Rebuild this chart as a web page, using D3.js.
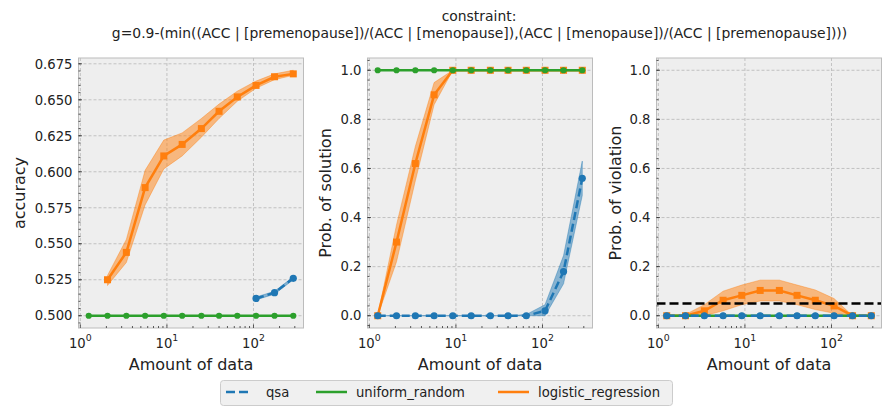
<!DOCTYPE html>
<html>
<head>
<meta charset="utf-8">
<script src="https://cdn.jsdelivr.net/npm/d3@7"></script>
<style>
  html, body { margin: 0; padding: 0; background: #ffffff; }
  svg { display: block; font-family: "DejaVu Sans", sans-serif; }
</style>
</head>
<body>
<svg id="chart" width="891" height="415"></svg>
<script>
// ---------------- data ----------------
const titleLines = ["constraint:",
  "g=0.9-(min((ACC | [premenopause])/(ACC | [menopause]),(ACC | [menopause])/(ACC | [premenopause])))"];
const seriesNames = ["qsa", "uniform_random", "logistic_regression"];
const nData = [1.25, 2.06, 3.4, 5.6, 9.2, 15, 25, 40, 65, 107, 175, 288];
const xTickValues = [1, 10, 100];
const xTickExponents = ["0", "1", "2"];

// panel 1: accuracy
const accQsa      = [null, null, null, null, null, null, null, null, null, 0.512, 0.516, 0.526];
const accQsaLo    = [null, null, null, null, null, null, null, null, null, 0.511, 0.515, 0.525];
const accQsaHi    = [null, null, null, null, null, null, null, null, null, 0.513, 0.517, 0.527];
const accUniform  = [0.5, 0.5, 0.5, 0.5, 0.5, 0.5, 0.5, 0.5, 0.5, 0.5, 0.5, 0.5];
const accLogreg   = [null, 0.525, 0.544, 0.589, 0.611, 0.619, 0.630, 0.642, 0.652, 0.660, 0.666, 0.668];
const accLogregLo = [null, 0.521, 0.537, 0.577, 0.602, 0.611, 0.624, 0.637, 0.649, 0.658, 0.664, 0.667];
const accLogregHi = [null, 0.528, 0.553, 0.601, 0.622, 0.627, 0.637, 0.647, 0.656, 0.663, 0.668, 0.6705];
const accTicks = [0.500, 0.525, 0.550, 0.575, 0.600, 0.625, 0.650, 0.675];

// panel 2: probability of solution
const solQsa      = [0, 0, 0, 0, 0, 0, 0, 0, 0, 0.02, 0.18, 0.56];
const solQsaLo    = [0, 0, 0, 0, 0, 0, 0, 0, 0, 0.0, 0.13, 0.49];
const solQsaHi    = [0, 0, 0, 0, 0, 0, 0, 0, 0.005, 0.045, 0.245, 0.63];
const solUniform  = [1, 1, 1, 1, 1, 1, 1, 1, 1, 1, 1, 1];
const solLogreg   = [0, 0.30, 0.62, 0.90, 1, 1, 1, 1, 1, 1, 1, 1];
const solLogregLo = [0, 0.22, 0.55, 0.86, 1, 1, 1, 1, 1, 1, 1, 1];
const solLogregHi = [0, 0.37, 0.69, 0.95, 1, 1, 1, 1, 1, 1, 1, 1];

// panel 3: probability of violation
const violQsa      = [0, 0, 0, 0, 0, 0, 0, 0, 0, 0, 0, 0];
const violUniform  = [0, 0, 0, 0, 0, 0, 0, 0, 0, 0, 0, 0];
const violLogreg   = [0, 0, 0.02, 0.063, 0.083, 0.103, 0.103, 0.083, 0.063, 0.04, 0, 0];
const violLogregLo = [0, 0, 0, 0.02, 0.045, 0.06, 0.06, 0.045, 0.025, 0.01, 0, 0];
const violLogregHi = [0, 0.005, 0.045, 0.10, 0.125, 0.145, 0.145, 0.125, 0.105, 0.07, 0, 0];
const deltaThreshold = 0.05;
const probTicks = [0, 0.2, 0.4, 0.6, 0.8, 1.0];

// ---------------- style ----------------
const colors = { qsa: "#1f77b4", uniform_random: "#2ca02c", logistic_regression: "#ff7f0e" };
const svg = d3.select("#chart");
const panelTop = 58, panelBottom = 328;
const panelLefts = [78.5, 367.5, 656.5];
const panelW = 225;

// shared log x scale with 5% (log) margin like matplotlib
const lmin = Math.log10(d3.min(nData)), lmax = Math.log10(d3.max(nData));
const lr = lmax - lmin;
const xDomain = [Math.pow(10, lmin - 0.05 * lr), Math.pow(10, lmax + 0.05 * lr)];

function padDomain(lo, hi) { const r = hi - lo; return [lo - 0.05 * r, hi + 0.05 * r]; }

function drawPanel(i, cfg) {
  const left = panelLefts[i];
  const x = d3.scaleLog().domain(xDomain).range([left, left + panelW]);
  const y = d3.scaleLinear().domain(cfg.yDomain).range([panelBottom, panelTop]);
  const g = svg.append("g");
  const clipId = "clip" + i;
  svg.append("clipPath").attr("id", clipId).append("rect")
    .attr("x", left).attr("y", panelTop).attr("width", panelW).attr("height", panelBottom - panelTop);

  g.append("rect").attr("x", left).attr("y", panelTop).attr("width", panelW)
    .attr("height", panelBottom - panelTop).attr("fill", "#eeeeee");

  // grid
  const grid = g.append("g").attr("stroke", "#b6b6b6").attr("stroke-width", 0.8)
    .attr("stroke-dasharray", "3,2");
  xTickValues.forEach(v => {
    if (v >= xDomain[0]) grid.append("line").attr("x1", x(v)).attr("x2", x(v))
      .attr("y1", panelTop).attr("y2", panelBottom);
  });
  cfg.yTicks.forEach(v => {
    grid.append("line").attr("x1", left).attr("x2", left + panelW).attr("y1", y(v)).attr("y2", y(v));
  });

  const plot = g.append("g").attr("clip-path", `url(#${clipId})`);
  const idx = d3.range(nData.length);

  // series drawn in order: logistic, uniform, qsa
  cfg.series.forEach(s => {
    const col = colors[s.name];
    if (s.lo) {
      const area = d3.area().defined(k => s.lo[k] != null)
        .x(k => x(nData[k])).y0(k => y(s.lo[k])).y1(k => y(s.hi[k]));
      plot.append("path").attr("d", area(idx)).attr("fill", col).attr("fill-opacity", 0.5)
        .attr("stroke", col).attr("stroke-opacity", 0.5).attr("stroke-width", 0.8);
    }
  });
  cfg.series.forEach(s => {
    const col = colors[s.name];
    const line = d3.line().defined(k => s.v[k] != null).x(k => x(nData[k])).y(k => y(s.v[k]));
    const p = plot.append("path").attr("d", line(idx)).attr("fill", "none").attr("stroke", col)
      .attr("stroke-width", 2.5);
    if (s.name === "qsa") p.attr("stroke-dasharray", "8,4");
    const pts = idx.filter(k => s.v[k] != null);
    if (s.name === "logistic_regression") {
      plot.selectAll(null).data(pts).enter().append("rect")
        .attr("x", k => x(nData[k]) - 3.5).attr("y", k => y(s.v[k]) - 3.5)
        .attr("width", 7).attr("height", 7).attr("fill", col);
    } else {
      plot.selectAll(null).data(pts).enter().append("circle")
        .attr("cx", k => x(nData[k])).attr("cy", k => y(s.v[k]))
        .attr("r", s.name === "qsa" ? 3.6 : 3.1).attr("fill", col);
    }
  });

  if (cfg.threshold != null) {
    plot.append("line").attr("x1", left).attr("x2", left + panelW)
      .attr("y1", y(cfg.threshold)).attr("y2", y(cfg.threshold))
      .attr("stroke", "#000").attr("stroke-width", 2.5).attr("stroke-dasharray", "9,4");
  }

  // spines
  g.append("rect").attr("x", left).attr("y", panelTop).attr("width", panelW)
    .attr("height", panelBottom - panelTop).attr("fill", "none").attr("stroke", "#bcbcbc").attr("stroke-width", 1);

  // ticks (inward)
  const tk = g.append("g").attr("stroke", "#333").attr("stroke-width", 0.8);
  xTickValues.forEach((v, j) => {
    if (v < xDomain[0]) return;
    tk.append("line").attr("x1", x(v)).attr("x2", x(v)).attr("y1", panelBottom).attr("y2", panelBottom - 3.5);
    const t = g.append("text").attr("x", x(v)).attr("y", 348).attr("text-anchor", "middle")
      .attr("font-size", 13.2).attr("fill", "#222");
    t.append("tspan").text("10");
    t.append("tspan").attr("dy", -7).attr("font-size", 9.4).text(xTickExponents[j]);
  });
  for (let d = 0; d <= 2; d++) {
    for (let m = 2; m <= 9; m++) {
      const v = m * Math.pow(10, d);
      if (v > xDomain[1]) continue;
      tk.append("line").attr("x1", x(v)).attr("x2", x(v)).attr("y1", panelBottom).attr("y2", panelBottom - 2);
    }
  }
  cfg.yTicks.forEach(v => {
    tk.append("line").attr("x1", left).attr("x2", left + 3.5).attr("y1", y(v)).attr("y2", y(v));
    g.append("text").attr("x", left - 6).attr("y", y(v)).attr("dy", "0.36em")
      .attr("text-anchor", "end").attr("font-size", 13.2).attr("fill", "#222").text(cfg.yFormat(v));
  });
  const step = cfg.yTicks[1] - cfg.yTicks[0];
  const minorStep = step / 5;
  const nMin = Math.ceil(cfg.yDomain[0] / minorStep), nMax = Math.floor(cfg.yDomain[1] / minorStep);
  for (let k = nMin; k <= nMax; k++) {
    const v = k * minorStep;
    tk.append("line").attr("x1", left).attr("x2", left + 2).attr("y1", y(v)).attr("y2", y(v));
  }

  g.append("text").attr("x", left + panelW / 2).attr("y", 370).attr("text-anchor", "middle")
    .attr("font-size", 16).attr("fill", "#222").text("Amount of data");
  g.append("text").attr("transform", `translate(${left - cfg.ylabOffset},${(panelTop + panelBottom) / 2}) rotate(-90)`)
    .attr("text-anchor", "middle").attr("font-size", 16).attr("fill", "#222").text(cfg.ylabel);
}

const accAll = [].concat(accUniform, accLogregLo, accLogregHi, accQsaLo, accQsaHi).filter(v => v != null);
drawPanel(0, {
  yDomain: padDomain(d3.min(accAll), d3.max(accAll)),
  yTicks: accTicks, yFormat: d3.format(".3f"), ylabel: "accuracy", ylabOffset: 54,
  series: [
    { name: "logistic_regression", v: accLogreg, lo: accLogregLo, hi: accLogregHi },
    { name: "uniform_random", v: accUniform },
    { name: "qsa", v: accQsa, lo: accQsaLo, hi: accQsaHi }
  ]
});
drawPanel(1, {
  yDomain: padDomain(0, 1),
  yTicks: probTicks, yFormat: d3.format(".1f"), ylabel: "Prob. of solution", ylabOffset: 37,
  series: [
    { name: "logistic_regression", v: solLogreg, lo: solLogregLo, hi: solLogregHi },
    { name: "uniform_random", v: solUniform },
    { name: "qsa", v: solQsa, lo: solQsaLo, hi: solQsaHi }
  ]
});
drawPanel(2, {
  yDomain: padDomain(0, 1),
  yTicks: probTicks, yFormat: d3.format(".1f"), ylabel: "Prob. of violation", ylabOffset: 36,
  threshold: deltaThreshold,
  series: [
    { name: "logistic_regression", v: violLogreg, lo: violLogregLo, hi: violLogregHi },
    { name: "uniform_random", v: violUniform },
    { name: "qsa", v: violQsa }
  ]
});

// title
svg.append("text").attr("x", 479).attr("y", 21).attr("text-anchor", "middle")
  .attr("font-size", 13.9).attr("fill", "#222").text(titleLines[0]);
svg.append("text").attr("x", 479.5).attr("y", 38).attr("text-anchor", "middle")
  .attr("font-size", 13.9).attr("fill", "#222").text(titleLines[1]);

// legend
const lg = svg.append("g");
lg.append("rect").attr("x", 220.5).attr("y", 380.5).attr("width", 452).attr("height", 25).attr("rx", 3)
  .attr("fill", "#f0f0f0").attr("stroke", "#cccccc").attr("stroke-width", 1);
const legendLineX = [226, 316, 498];
const legendTextX = [266, 356, 538];
seriesNames.forEach((name, j) => {
  const l = lg.append("line").attr("x1", legendLineX[j]).attr("x2", legendLineX[j] + 26)
    .attr("y1", 392).attr("y2", 392).attr("stroke", colors[name]).attr("stroke-width", 2.5);
  if (name === "qsa") l.attr("stroke-dasharray", "9,4");
  else l.attr("x2", legendLineX[j] + 31);
  lg.append("text").attr("x", legendTextX[j]).attr("y", 392).attr("dy", "0.36em")
    .attr("font-size", 13.2).attr("fill", "#222").text(name);
});
</script>
</body>
</html>
